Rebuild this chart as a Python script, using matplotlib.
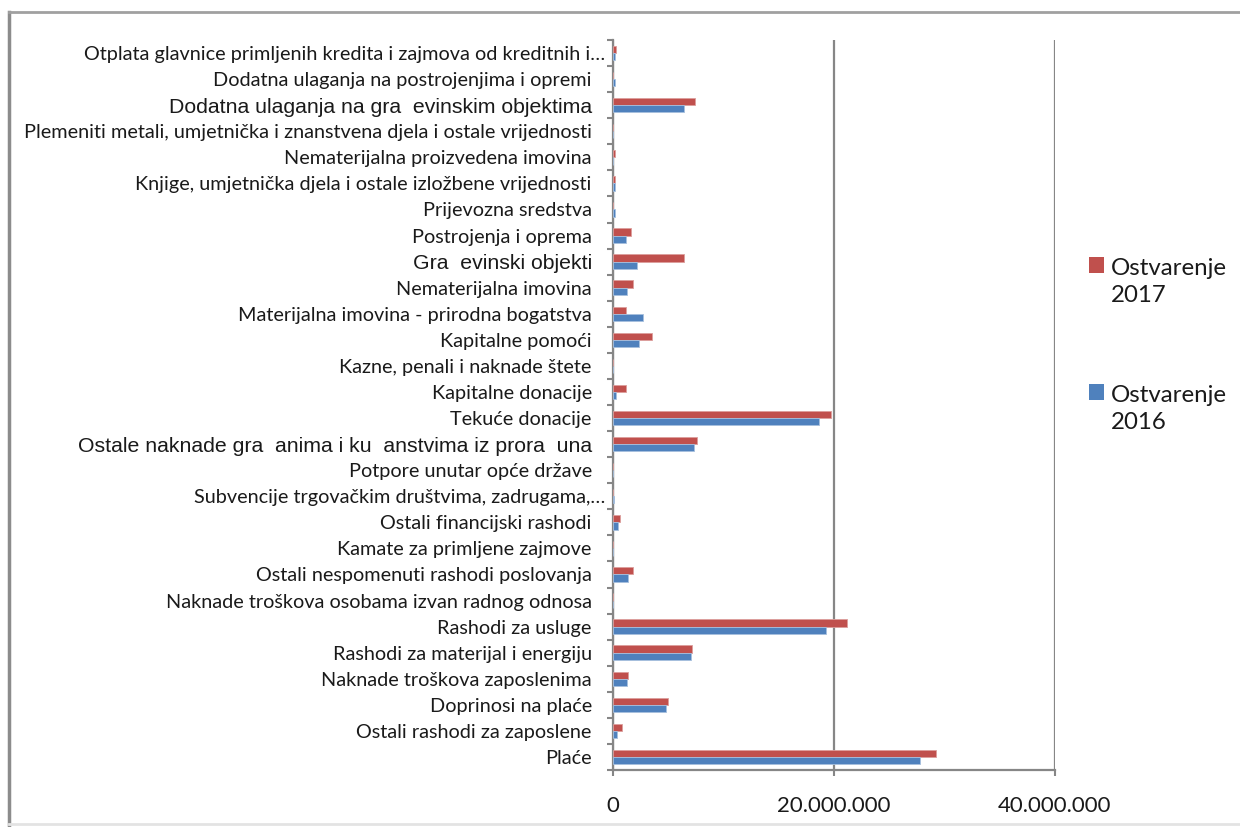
import numpy as np
import matplotlib
matplotlib.use("Agg")
import matplotlib.pyplot as plt
from matplotlib.patches import Rectangle
from matplotlib.lines import Line2D
from matplotlib.ticker import FuncFormatter

# categories listed top to bottom as in the chart
categories = [
    "Otplata glavnice primljenih kredita i zajmova od kreditnih i…",
    "Dodatna ulaganja na postrojenjima i opremi",
    "Dodatna ulaganja na gra  evinskim objektima",
    "Plemeniti metali, umjetnička i znanstvena djela i ostale vrijednosti",
    "Nematerijalna proizvedena imovina",
    "Knjige, umjetnička djela i ostale izložbene vrijednosti",
    "Prijevozna sredstva",
    "Postrojenja i oprema",
    "Gra  evinski objekti",
    "Nematerijalna imovina",
    "Materijalna imovina - prirodna bogatstva",
    "Kapitalne pomoći",
    "Kazne, penali i naknade štete",
    "Kapitalne donacije",
    "Tekuće donacije",
    "Ostale naknade gra  anima i ku  anstvima iz prora  una",
    "Potpore unutar opće države",
    "Subvencije trgovačkim društvima, zadrugama,…",
    "Ostali financijski rashodi",
    "Kamate za primljene zajmove",
    "Ostali nespomenuti rashodi poslovanja",
    "Naknade troškova osobama izvan radnog odnosa",
    "Rashodi za usluge",
    "Rashodi za materijal i energiju",
    "Naknade troškova zaposlenima",
    "Doprinosi na plaće",
    "Ostali rashodi za zaposlene",
    "Plaće",
]
# labels that lost a glyph and show in a different font
broken_labels = [categories[2], categories[8], categories[15]]

ostvarenje_2017 = [
    300000, 0, 7470000, 0, 200000, 200000, 0, 1660000, 6410000, 1880000,
    1240000, 3570000, 0, 1180000, 19730000, 7620000, 0, 0, 640000, 0,
    1810000, 0, 21230000, 7170000, 1360000, 5020000, 880000, 29250000,
]
ostvarenje_2016 = [
    200000, 200000, 6410000, 0, 0, 250000, 250000, 1180000, 2210000, 1300000,
    2700000, 2390000, 0, 300000, 18670000, 7350000, 0, 120000, 520000, 0,
    1360000, 0, 19270000, 7050000, 1300000, 4780000, 430000, 27800000,
]
series_names = ["Ostvarenje\n2017", "Ostvarenje\n2016"]

red = "#C0504D"
blue = "#4F81BD"
grey = "#868686"

W, H = 1240, 827
fig = plt.figure(figsize=(W / 100, H / 100), dpi=100)

def fx(px):
    return px / W

def fy(py):
    return 1 - py / H

ax = fig.add_axes([fx(612.7), fy(770), (1055 - 612.7) / W, (770 - 40) / H])

n = len(categories)
pos = np.arange(n)
cats = categories[::-1]
v17 = ostvarenje_2017[::-1]
v16 = ostvarenje_2016[::-1]

ax.barh(pos + 0.138, v17, height=0.276, color=red, edgecolor="#dc9e9c", linewidth=0.6, zorder=3)
ax.barh(pos - 0.138, v16, height=0.276, color=blue, edgecolor="#a7c0de", linewidth=0.6, zorder=3)

ax.set_ylim(-0.5, n - 0.5)
ax.set_xlim(0, 40000000)

ax.set_yticks(pos)
ax.set_yticklabels(cats)
ax.set_yticks(np.arange(n + 1) - 0.5, minor=True)
ax.tick_params(axis="y", which="major", length=0, pad=15)
ax.tick_params(axis="y", which="minor", length=4.5, width=1.5, color=grey, direction="out")
for tick in ax.yaxis.get_major_ticks():
    lab = tick.label1
    if lab.get_text() in broken_labels:
        lab.set_fontfamily("Liberation Sans")
        lab.set_fontsize(15.3)
    else:
        lab.set_fontfamily("Lato")
        lab.set_fontsize(14.3)
    if lab.get_text().endswith("…"):
        # truncated labels sit closer to the axis
        tick.set_pad(5.6)
    lab.set_color("#1a1a1a")

ax.set_xticks([0, 20000000, 40000000])
ax.xaxis.set_major_formatter(FuncFormatter(lambda v, p: f"{v:,.0f}".replace(",", ".")))
ax.tick_params(axis="x", length=4.5, width=1.5, color=grey, pad=14, labelsize=16)
for lab in ax.get_xticklabels():
    lab.set_fontfamily("Lato")
    lab.set_color("#1a1a1a")

ax.grid(axis="x", color=grey, linewidth=1.6, zorder=0)
ax.set_axisbelow(True)
for side in ["top", "right"]:
    ax.spines[side].set_visible(False)
for side in ["left", "bottom"]:
    ax.spines[side].set_color(grey)
    ax.spines[side].set_linewidth(1.6)

# legend, square next to first line of each label
legend_y = [257, 384]
for name, col, top in zip(series_names, [red, blue], legend_y):
    fig.add_artist(Rectangle((fx(1089), fy(top + 16)), 15 / W, 16 / H,
                             facecolor=col, edgecolor="none", transform=fig.transFigure))
    fig.text(fx(1111), fy(top + 1), name, ha="left", va="top", fontsize=17.3,
             family="Lato", linespacing=1.38, color="#1a1a1a")

# chart frame
fig.add_artist(Line2D([fx(9), fx(9)], [fy(12), fy(827)], color="#8c8c8c", lw=2.5, transform=fig.transFigure))
fig.add_artist(Line2D([fx(9), fx(1240)], [fy(12), fy(12)], color="#a0a0a0", lw=2, transform=fig.transFigure))
fig.add_artist(Line2D([fx(9), fx(1240)], [fy(824), fy(824)], color="#e3e3e3", lw=2, transform=fig.transFigure))

fig.savefig("out.png", dpi=100)
